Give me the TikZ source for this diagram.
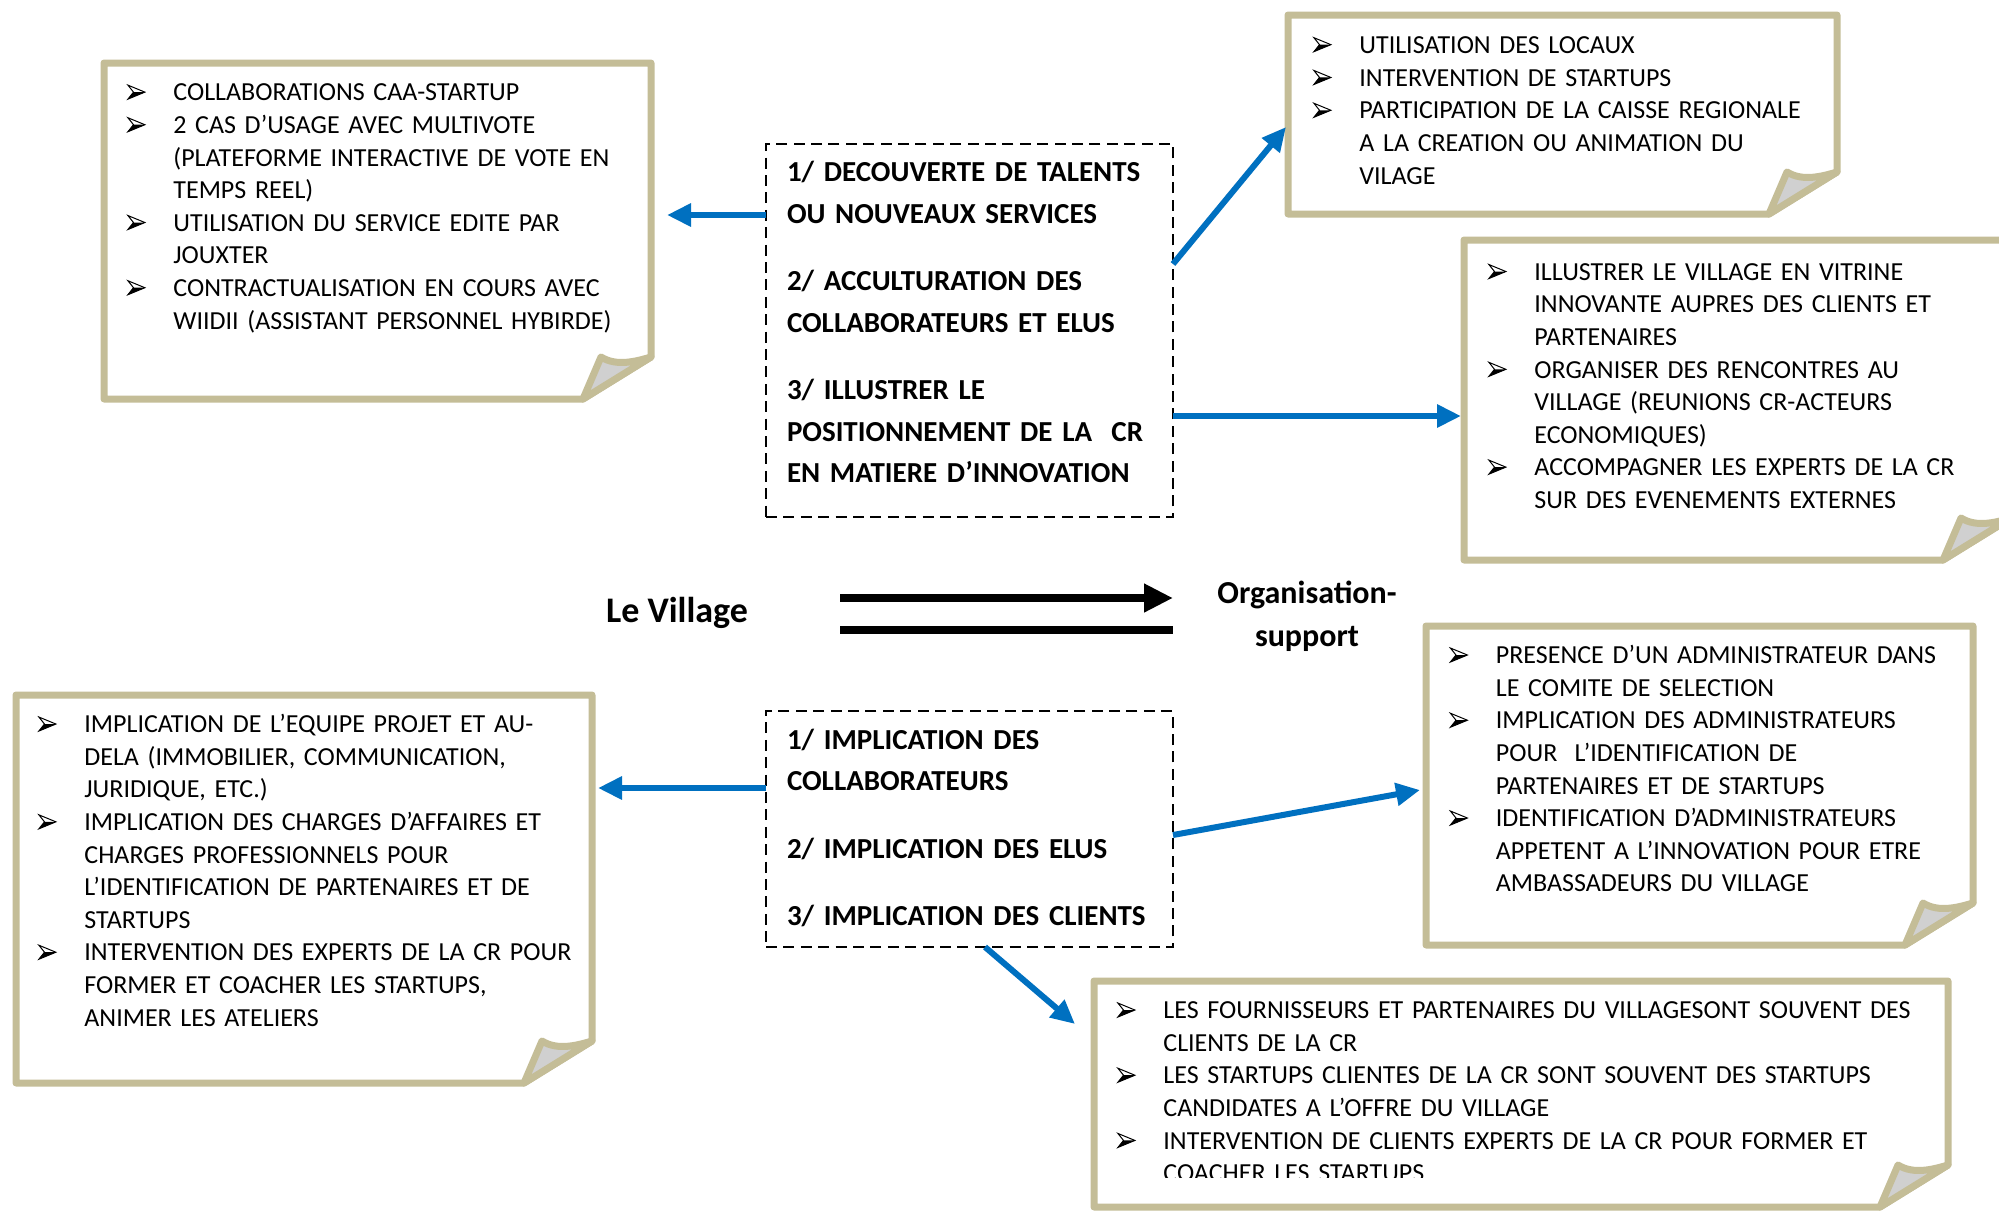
\documentclass[tikz,border=0pt]{standalone}
\usepackage{fontspec}
\setmainfont{Carlito}
\usetikzlibrary{arrows.meta,fit,calc}
\definecolor{paperline}{HTML}{C4BD97}
\definecolor{flapgrey}{HTML}{D0D0D0}
\definecolor{arrowblue}{HTML}{0070C0}
\tikzset{
 paper/.style={draw=paperline, line width=3.5pt, line join=round},
 flapstyle/.style={paper, fill=flapgrey},
 area/.style={inner sep=0pt, outer sep=0pt},
 dashbox/.style={draw=black, line width=1.2pt, dash pattern=on 5.5pt off 3.2pt, inner sep=0pt, outer sep=0pt},
 bodytext/.style={anchor=north west, inner sep=0pt, text width=560pt, align=left, font=\fontsize{13}{16.3}\selectfont},
 headtext/.style={anchor=north west, inner sep=0pt, text width=300pt, align=left, font=\bfseries\fontsize{14.5}{20.75}\selectfont},
 barrow/.style={draw=arrowblue, line width=3pt, -{Triangle[length=12pt,width=11pt]}},
 karrow/.style={draw=black, line width=4pt},
}
\newsavebox\bulbox
\newcommand\bl{\makebox[23pt][l]{\raisebox{0.6pt}{\usebox\bulbox}}}
\newcommand\ct{\hspace*{23pt}}
\newcommand\paperbox[1]{%
 \draw[paper] (#1.north west) -- (#1.north east) -- ([yshift=21pt]#1.south east) -- ([xshift=-34pt]#1.south east) -- (#1.south west) -- cycle;
 \draw[flapstyle] ([xshift=-34pt]#1.south east) -- ([xshift=-25pt,yshift=21pt]#1.south east) .. controls ([xshift=-17pt,yshift=16pt]#1.south east) and ([xshift=-7pt,yshift=19pt]#1.south east) .. ([yshift=21pt]#1.south east) -- cycle;
}
\begin{document}
\sbox\bulbox{\begin{pgfpicture}%
\pgfpathmoveto{\pgfpoint{0pt}{0pt}}\pgfpathlineto{\pgfpoint{8.5pt}{3.5pt}}\pgfpathlineto{\pgfpoint{2.8pt}{3.5pt}}\pgfpathclose\pgfusepath{fill}%
\pgfsetlinewidth{0.5pt}\pgfsetmiterjoin
\pgfpathmoveto{\pgfpoint{0pt}{7pt}}\pgfpathlineto{\pgfpoint{8.5pt}{3.5pt}}\pgfpathlineto{\pgfpoint{0pt}{0pt}}\pgfpathlineto{\pgfpoint{2.8pt}{3.5pt}}\pgfpathclose\pgfusepath{stroke}%
\end{pgfpicture}}%
\begin{tikzpicture}[x=0.5pt,y=-0.5pt]
\clip (0,0) rectangle (1999,1212);
\fill[white] (0,0) rectangle (1999,1212);

% paper boxes
\node[area, fit={(104,63) (651,399)}] (a) {};
\node[area, fit={(1288,15) (1837,214)}] (b) {};
\node[area, fit={(1464,240) (2011,560)}] (c) {};
\node[area, fit={(16,695) (592,1083)}] (e) {};
\node[area, fit={(1426,626) (1973,945)}] (f) {};
\node[area, fit={(1094,981) (1948,1207)}] (g) {};
\paperbox{a}\paperbox{b}\paperbox{c}\paperbox{e}\paperbox{f}\paperbox{g}

% dashed boxes
\node[dashbox, fit={(766,144) (1173,517)}] (d1) {};
\node[dashbox, fit={(766,711) (1173,947)}] (d2) {};

% texts
\node[bodytext] (ta) at (127,77.6) {\strut\bl COLLABORATIONS CAA-STARTUP\\
\bl 2 CAS D’USAGE AVEC MULTIVOTE\\
\ct (PLATEFORME INTERACTIVE DE VOTE EN\\
\ct TEMPS REEL)\\
\bl UTILISATION DU SERVICE EDITE PAR\\
\ct JOUXTER\\
\bl CONTRACTUALISATION EN COURS AVEC\\
\ct WIIDII (ASSISTANT PERSONNEL HYBIRDE)};

\node[bodytext, font=\fontsize{13}{16.4}\selectfont] (tb) at (1313,30) {\strut\bl UTILISATION DES LOCAUX\\
\bl INTERVENTION DE STARTUPS\\
\bl PARTICIPATION DE LA CAISSE REGIONALE\\
\ct A LA CREATION OU ANIMATION DU\\
\ct VILAGE};

\node[bodytext] (tc) at (1488,257) {\strut\bl ILLUSTRER LE VILLAGE EN VITRINE\\
\ct INNOVANTE AUPRES DES CLIENTS ET\\
\ct PARTENAIRES\\
\bl ORGANISER DES RENCONTRES AU\\
\ct VILLAGE (REUNIONS CR-ACTEURS\\
\ct ECONOMIQUES)\\
\bl ACCOMPAGNER LES EXPERTS DE LA CR\\
\ct SUR DES EVENEMENTS EXTERNES};

\node[bodytext] (te) at (38,709.5) {\strut\bl IMPLICATION DE L’EQUIPE PROJET ET AU-\\
\ct DELA (IMMOBILIER, COMMUNICATION,\\
\ct JURIDIQUE, ETC.)\\
\bl IMPLICATION DES CHARGES D’AFFAIRES ET\\
\ct CHARGES PROFESSIONNELS POUR\\
\ct L’IDENTIFICATION DE PARTENAIRES ET DE\\
\ct STARTUPS\\
\bl INTERVENTION DES EXPERTS DE LA CR POUR\\
\ct FORMER ET COACHER LES STARTUPS,\\
\ct ANIMER LES ATELIERS};

\node[bodytext] (tf) at (1449.5,640.5) {\strut\bl PRESENCE D’UN ADMINISTRATEUR DANS\\
\ct LE COMITE DE SELECTION\\
\bl IMPLICATION DES ADMINISTRATEURS\\
\ct POUR\ \ L’IDENTIFICATION DE\\
\ct PARTENAIRES ET DE STARTUPS\\
\bl IDENTIFICATION D’ADMINISTRATEURS\\
\ct APPETENT A L’INNOVATION POUR ETRE\\
\ct AMBASSADEURS DU VILLAGE};

\begin{scope}
\clip (0,0) rectangle (1999,1177);
\node[bodytext] (tg) at (1117,995.5) {\strut\bl LES FOURNISSEURS ET PARTENAIRES DU VILLAGESONT SOUVENT DES\\
\ct CLIENTS DE LA CR\\
\bl LES STARTUPS CLIENTES DE LA CR SONT SOUVENT DES STARTUPS\\
\ct CANDIDATES A L’OFFRE DU VILLAGE\\
\bl INTERVENTION DE CLIENTS EXPERTS DE LA CR POUR FORMER ET\\
\ct COACHER LES STARTUPS};
\end{scope}

\node[headtext] (td1) at (786.6,152.5) {\strut 1/ DECOUVERTE DE TALENTS\\
OU NOUVEAUX SERVICES\\[13pt]
2/ ACCULTURATION DES\\
COLLABORATEURS ET ELUS\\[13pt]
3/ ILLUSTRER LE\\
POSITIONNEMENT DE LA\ \ CR\\
EN MATIERE D’INNOVATION};

\node[headtext] (td2) at (786.6,720) {\strut 1/ IMPLICATION DES\\
COLLABORATEURS\\[13pt]
2/ IMPLICATION DES ELUS\\[13pt]
3/ IMPLICATION DES CLIENTS};

% centre
\node[anchor=base, inner sep=0pt, font=\bfseries\fontsize{18}{22}\selectfont] (village) at (677,622) {Le Village};
\node[anchor=north, inner sep=0pt, align=center, font=\bfseries\fontsize{16}{21.5}\selectfont] (orga) at (1307,573) {\strut Organisation-\\support};
\coordinate (k1s) at (840,598);
\coordinate (k1e) at (1173,598);
\coordinate (k2s) at (840,630);
\coordinate (k2e) at (1173,630);
\draw[karrow, -{Triangle[length=14.5pt,width=13.5pt]}] (k1s) -- (k1e);
\draw[karrow] (k2s) -- (k2e);

% blue connectors
\draw[barrow] (d1.west |- 0,215) -- ($(a.east |- 0,215)+(16,0)$);
\draw[barrow] (d1.east |- 0,264) -- ($(b.west |- 0,127)+(-2,0)$);
\draw[barrow] (d1.east |- 0,416) -- ($(c.west |- 0,416)+(-3,0)$);
\draw[barrow] (d2.west |- 0,788) -- ($(e.east |- 0,788)+(6,0)$);
\draw[barrow] (d2.east |- 0,835) -- ($(f.west |- 0,790)+(-6,0)$);
\draw[barrow] (d2.south -| 985,0) -- ($(g.north west)+(-19,43)$);
\end{tikzpicture}
\end{document}
